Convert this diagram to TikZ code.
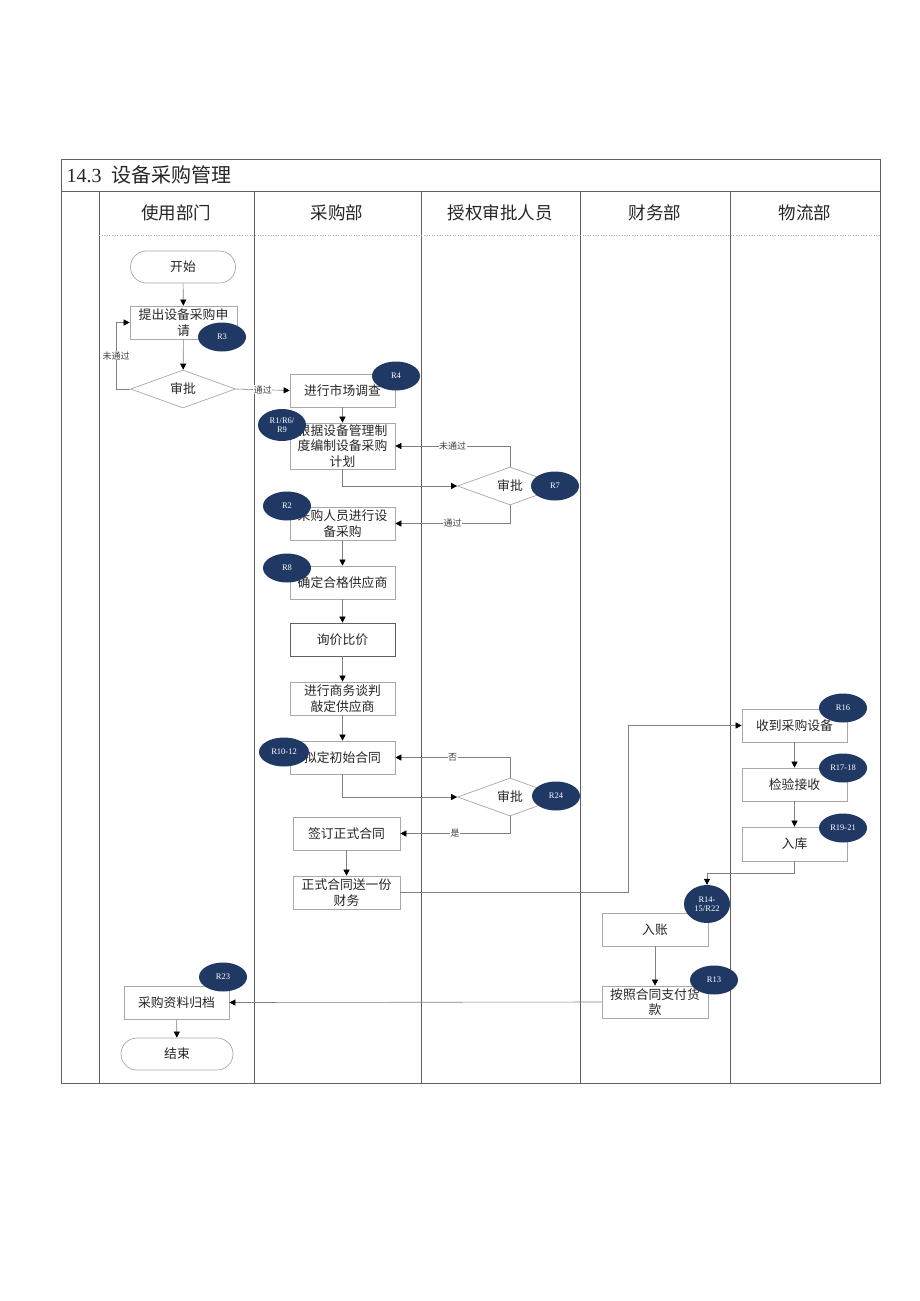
\documentclass[tikz,border=0pt]{standalone}
\usepackage{fontspec}
\newfontfamily\cjk{Noto Sans CJK SC}
\newfontfamily\lserif{Liberation Serif}
\usetikzlibrary{shapes.geometric,arrows.meta}
\definecolor{navy}{HTML}{1F3864}
\definecolor{laneline}{HTML}{606060}
\definecolor{boxline}{HTML}{A8A8A8}
\definecolor{conn}{HTML}{808080}
\begin{document}
\begin{tikzpicture}[x=1pt,y=-1pt,font=\cjk,
  proc/.style={draw=boxline,line width=0.7pt,minimum width=106pt,minimum height=33pt,
    inner sep=1pt,align=center,font=\cjk\fontsize{12.8}{15.5}\selectfont,text=black!85},
  term/.style={proc,rounded corners=16pt,minimum width=108pt,minimum height=32pt},
  dec/.style={diamond,draw=boxline,line width=0.7pt,minimum width=105pt,minimum height=38pt,
    inner sep=0pt,shape aspect=2.7,font=\cjk\fontsize{12.8}{14}\selectfont,text=black!85},
  rtag/.style={ellipse,fill=navy,text=white,minimum width=48pt,minimum height=29pt,
    inner sep=0pt,align=center,font=\lserif\fontsize{8.5}{9.5}\selectfont},
  arr/.style={draw=conn,line width=0.6pt,-{Triangle[width=6pt,length=6pt,black]}},
  lbl/.style={fill=white,inner sep=0.5pt,font=\cjk\fontsize{9}{10}\selectfont,text=black!75},
  lane/.style={draw=laneline,line width=0.6pt},
  hdr/.style={font=\cjk\fontsize{17.5}{20}\selectfont,text=black!85}
]
\useasboundingbox (0,0) rectangle (920,1301);
\fill[white] (0,0) rectangle (920,1301);
% frame and lanes
\draw[lane] (61,159) rectangle (880,1083);
\draw[lane] (61,191) -- (880,191);
\foreach \x in {99,254,421,580,730}{\draw[lane] (\x,191) -- (\x,1083);}
\draw[boxline,dotted,line width=0.6pt] (99,235) -- (880,235);
\node[anchor=west,font=\cjk\fontsize{20}{22}\selectfont,text=black!85] (title) at (63,175) {{\lserif 14.3}\hspace{10pt}设备采购管理};
\node[hdr] (h1) at (176,213) {使用部门};
\node[hdr] (h2) at (337,213) {采购部};
\node[hdr] (h3) at (500,213) {授权审批人员};
\node[hdr] (h4) at (655,213) {财务部};
\node[hdr] (h5) at (805,213) {物流部};
% nodes
\node[term,minimum width=105pt] (start) at (183,267) {开始};
\node[proc,minimum width=107pt] (req) at (183.5,322.5) {提出设备采购申\\请};
\node[dec] (d1) at (183,389) {审批};
\node[proc,minimum width=105pt] (survey) at (342.5,390.5) {进行市场调查};
\node[proc,minimum width=105pt,minimum height=46pt] (plan) at (342.5,446) {根据设备管理制\\度编制设备采购\\计划};
\node[dec] (d2) at (510,486) {审批};
\node[proc,minimum width=105pt] (buyer) at (342.5,523.5) {采购人员进行设\\备采购};
\node[proc,minimum width=105pt] (supp) at (342.5,582.5) {确定合格供应商};
\node[proc,minimum width=105pt,draw=laneline] (quote) at (342.5,639.5) {询价比价};
\node[proc,minimum width=105pt] (nego) at (342.5,698.5) {进行商务谈判\\敲定供应商};
\node[proc,minimum width=105pt] (draft) at (342.5,757.5) {拟定初始合同};
\node[dec] (d3) at (510,797) {审批};
\node[proc,minimum width=107pt] (sign) at (346.5,833.5) {签订正式合同};
\node[proc,minimum width=107pt] (send) at (346.5,892.5) {正式合同送一份\\财务};
\node[proc,minimum width=105pt] (recv) at (794.5,725.5) {收到采购设备};
\node[proc,minimum width=105pt] (check) at (794.5,784.5) {检验接收};
\node[proc,minimum width=105pt,minimum height=34pt] (store) at (794.5,844) {入库};
\node[proc,minimum width=106pt] (ledger) at (655,929.5) {入账};
\node[proc,minimum width=106pt,minimum height=32pt] (pay) at (655,1002) {按照合同支付货\\款};
\node[proc,minimum width=105pt] (archive) at (176.5,1002.5) {采购资料归档};
\node[term,minimum width=112pt] (end) at (177,1054) {结束};
% connectors
\draw[arr] (start) -- (req);
\draw[arr] (req) -- (d1);
\draw[arr] (d1.west) -- ++(-14,0) |- (req.west) node[pos=0.25,lbl] {未通过};
\draw[arr] (d1.east) -- (survey.west) node[pos=0.5,lbl] {通过};
\draw[arr] (survey) -- (plan);
\draw[arr] (plan.south) |- (d2.west);
\draw[arr] (d2.north) |- (plan.east) node[pos=0.75,lbl] {未通过};
\draw[arr] (d2.south) |- (buyer.east) node[pos=0.75,lbl] {通过};
\draw[arr] (buyer) -- (supp);
\draw[arr] (supp) -- (quote);
\draw[arr] (quote) -- (nego);
\draw[arr] (nego) -- (draft);
\draw[arr] (draft.south) |- (d3.west);
\draw[arr] (d3.north) |- (draft.east) node[pos=0.75,lbl] {否};
\draw[arr] (d3.south) |- (sign.east) node[pos=0.75,lbl] {是};
\draw[arr] (sign) -- (send);
\coordinate (c1) at (628,892.5);
\draw[arr] (send.east) -- (c1) |- (recv.west);
\draw[arr] (recv) -- (check);
\draw[arr] (check) -- (store);
\draw[arr] (ledger) -- (pay);
\draw[arr] (pay.west) -- (archive.east);
\draw[arr] (archive) -- (end);
% tags
\node[rtag] (t3) at (222,337) {R3};
\node[rtag] (t4) at (396,376) {R4};
\node[rtag,minimum height=32pt] (t169) at (282,425) {R1/R6/\\R9};
\node[rtag] (t7) at (555,486) {R7};
\node[rtag] (t2) at (287,506) {R2};
\node[rtag] (t8) at (287,568) {R8};
\node[rtag,minimum width=50pt] (t1012) at (284,752) {R10-12};
\node[rtag] (t24) at (556,796) {R24};
\node[rtag] (t16) at (843,708) {R16};
\node[rtag] (t1718) at (843,768) {R17-18};
\node[rtag] (t1921) at (843,828) {R19-21};
\node[rtag,minimum width=46pt,minimum height=38pt] (t1422) at (707,904) {R14-\\15/R22};
\node[rtag] (t13) at (714,980) {R13};
\node[rtag] (t23) at (223,977) {R23};
\draw[arr] (store.south) -- ++(0,12) -| (t1422.north);
\end{tikzpicture}
\end{document}
